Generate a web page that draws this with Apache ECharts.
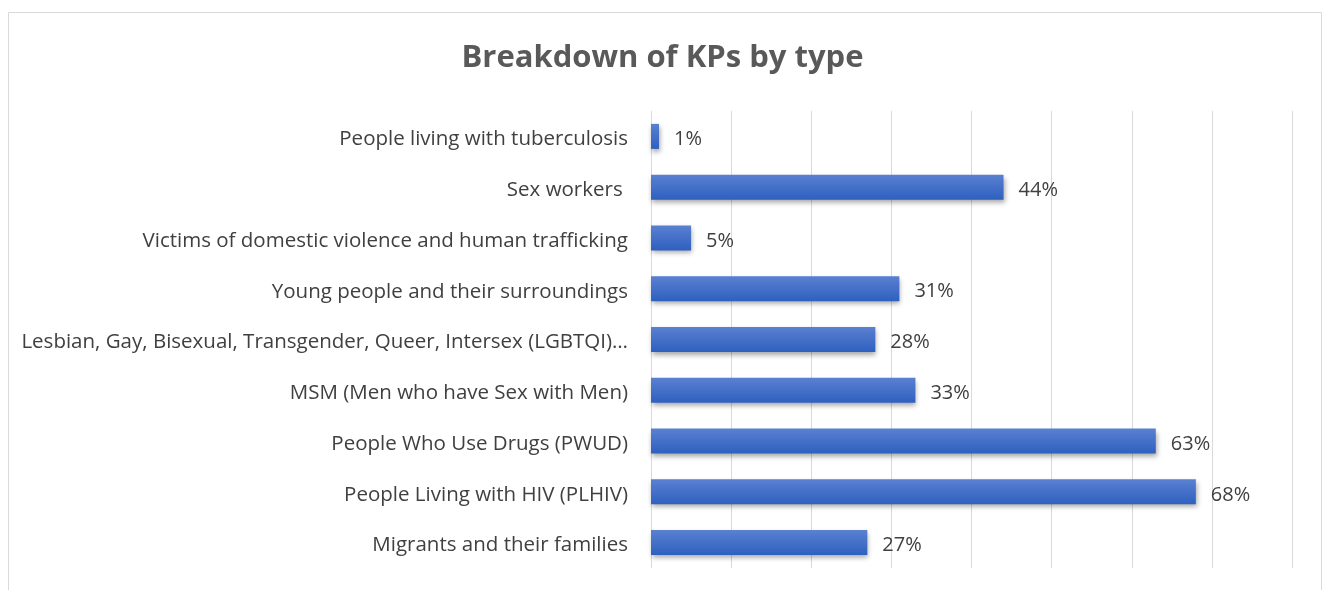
<!DOCTYPE html>
<html>
<head>
<meta charset="utf-8">
<script src="https://cdn.jsdelivr.net/npm/echarts@6/dist/echarts.min.js"></script>
<style>
  html, body { margin: 0; padding: 0; background: #fff; }
  #chart { width: 1325px; height: 590px; }
</style>
</head>
<body>
<div id="chart"></div>
<script>
// categories top to bottom
var categories = [
  'People living with tuberculosis',
  'Sex workers ',
  'Victims of domestic violence and human trafficking',
  'Young people and their surroundings',
  'Lesbian, Gay, Bisexual, Transgender, Queer, Intersex (LGBTQI)…',
  'MSM (Men who have Sex with Men)',
  'People Who Use Drugs (PWUD)',
  'People Living with HIV (PLHIV)',
  'Migrants and their families'
];
var shares = [1, 44, 5, 31, 28, 33, 63, 68, 27];

var font = '"Open Sans", Lato, sans-serif';
var chart = echarts.init(document.getElementById('chart'), null, { renderer: 'canvas' });

var option = {
  animation: false,
  textStyle: { fontFamily: font },
  title: {
    text: 'Breakdown of KPs by type',
    left: 'center',
    top: 38,
    textStyle: { fontSize: 31, fontWeight: 'bold', color: '#595959', fontFamily: font }
  },
  graphic: [{
    type: 'rect',
    shape: { x: 8.5, y: 12.5, width: 1313, height: 600 },
    style: { fill: 'none', stroke: '#d9d9d9', lineWidth: 1 },
    silent: true
  }],
  grid: { left: 651, right: 33, top: 111, bottom: 22 },
  xAxis: {
    type: 'value',
    min: 0,
    max: 80,
    interval: 10,
    axisLabel: { show: false },
    axisLine: { show: false },
    axisTick: { show: false },
    splitLine: { lineStyle: { color: '#d9d9d9', width: 1 } }
  },
  yAxis: {
    type: 'category',
    data: categories,
    inverse: true,
    axisLine: { show: false },
    axisTick: { show: false },
    axisLabel: {
      margin: 23,
      formatter: '{lbl|{value}}',
      rich: {
        lbl: { fontSize: 20.5, color: '#404040', fontFamily: font, padding: [6, 0, 0, 0] }
      }
    }
  },
  series: [{
    type: 'bar',
    data: shares,
    barWidth: 25,
    itemStyle: {
      color: new echarts.graphic.LinearGradient(0, 0, 0, 1, [
        { offset: 0, color: '#5a80d1' },
        { offset: 1, color: '#2e60bf' }
      ]),
      shadowColor: 'rgba(0,0,0,0.35)',
      shadowBlur: 5,
      shadowOffsetX: 1,
      shadowOffsetY: 3
    },
    label: {
      show: true,
      position: 'right',
      distance: 15,
      offset: [0, 3],
      formatter: '{c}%',
      fontSize: 20,
      color: '#404040',
      fontFamily: font
    }
  }]
};

chart.setOption(option);
</script>
</body>
</html>
